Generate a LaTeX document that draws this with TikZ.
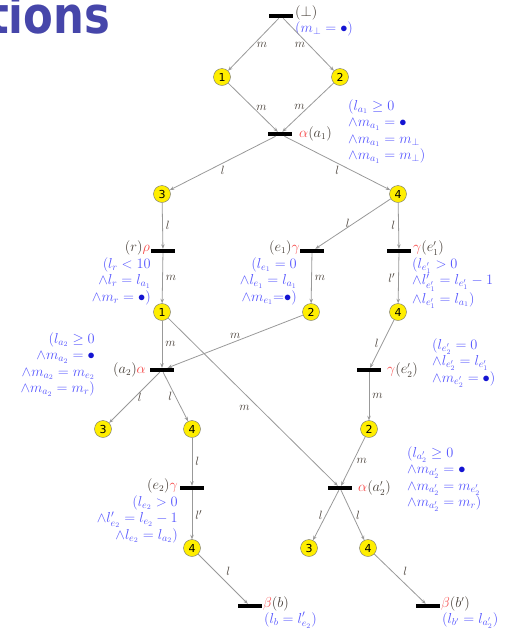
\documentclass[tikz,border=0pt]{standalone}
\usepackage{amsmath,amssymb}
\usepackage{fontspec}
\newfontfamily\titlefont{DejaVu Sans}
\newfontfamily\placefont{DejaVu Sans}
\usepackage{tikz}
\usetikzlibrary{arrows.meta}
\definecolor{annblue}{RGB}{85,85,255}
\definecolor{dotblue}{RGB}{20,20,210}
\definecolor{greekred}{RGB}{245,70,70}
\definecolor{lbldark}{RGB}{70,62,55}
\definecolor{placeyellow}{RGB}{255,238,0}
\definecolor{titleblue}{RGB}{70,70,170}
\tikzset{
    place/.style={
        circle, draw=black!55, fill=placeyellow, minimum size=17pt, inner sep=0pt,
        font=\placefont\fontsize{11}{11}\selectfont
    },
    trans/.style={
        rectangle, fill=black, minimum width=24pt, minimum height=4pt, inner sep=0pt
    },
    arrow/.style={
        line width=0.8pt, -{Stealth[length=4.5pt, width=3.5pt]}, draw=black!40
    },
    edge_lbl/.style={
        font=\fontsize{13}{13}\selectfont, text=lbldark, inner sep=3pt
    },
    name_lbl/.style={
        font=\fontsize{13.5}{13.5}\selectfont, text=lbldark, inner sep=0pt
    },
    note_l/.style={
        anchor=north west, align=left, inner sep=0pt, text=annblue,
        font=\fontsize{14}{16.5}\selectfont
    },
    note_r/.style={
        anchor=north east, align=right, inner sep=0pt, text=annblue,
        font=\fontsize{14}{16.5}\selectfont
    }
}

\begin{document}
\begin{tikzpicture}[x=1pt, y=-1pt]
    \useasboundingbox (0, 0) rectangle (506, 633);
    \node[anchor=base west, inner sep=0pt, text=titleblue] (title) at (-12, 33)
        {\titlefont\bfseries\fontsize{51}{51}\selectfont\scalebox{0.85}[1]{tions}};

    \node[trans] (tbot) at (281, 16) {};
    \node[place] (s1a) at (222, 77) {1};
    \node[place] (s2a) at (340, 77) {2};
    \node[trans] (ta1) at (280, 134) {};
    \node[place] (s3a) at (162, 194) {3};
    \node[place] (s4a) at (398, 194) {4};
    \node[trans] (tr) at (163, 251) {};
    \node[trans] (te1) at (312, 251) {};
    \node[trans] (te1p) at (399, 251) {};
    \node[place] (s1b) at (162, 312) {1};
    \node[place] (s2b) at (311, 312) {2};
    \node[place] (s4b) at (398, 312) {4};
    \node[trans] (ta2) at (162, 370) {};
    \node[trans] (te2p) at (369, 370) {};
    \node[place] (s3c) at (103, 429) {3};
    \node[place] (s4c) at (192, 429) {4};
    \node[place] (s2c) at (369, 429) {2};
    \node[trans] (te2) at (192, 488) {};
    \node[trans] (ta2p) at (340, 488) {};
    \node[place] (s4d) at (192, 548) {4};
    \node[place] (s3d) at (309, 548) {3};
    \node[place] (s4e) at (368, 548) {4};
    \node[trans] (tb) at (250, 606) {};
    \node[trans] (tbp) at (428, 606) {};

    \node[name_lbl, anchor=west] (nbot) at (295, 13) {$(\bot)$};
    \node[note_l] (cbot) at (295, 21) {$(m_\bot = {\color{dotblue}\bullet})$};
    \node[name_lbl, anchor=west] (na1) at (299, 134) {{\color{greekred}$\alpha$}$(a_1)$};
    \node[note_l] (ca1) at (348, 99) {$(l_{a_1} \geq 0$\\$\land m_{a_1} = {\color{dotblue}\bullet}$\\$\land m_{a_1} = m_\bot$\\$\land m_{a_1} = m_\bot)$};
    \node[name_lbl, anchor=east] (nr) at (150, 248) {$(r)${\color{greekred}$\rho$}};
    \node[note_r] (cr) at (151, 257) {$(l_r < 10$\\$\land l_r = l_{a_1}$\\$\land m_r = {\color{dotblue}\bullet})$};
    \node[name_lbl, anchor=east] (ne1) at (300, 248) {$(e_1)${\color{greekred}$\gamma$}};
    \node[note_r] (ce1) at (297, 257) {$(l_{e_1} = 0$\\$\land l_{e_1} = l_{a_1}$\\$\land m_{e_1}{=}{\color{dotblue}\bullet})$};
    \node[name_lbl, anchor=west] (ne1p) at (413, 248) {{\color{greekred}$\gamma$}$(e'_1)$};
    \node[note_l] (ce1p) at (412, 257) {$(l_{e'_1} > 0$\\$\land l'_{e'_1} = l_{e'_1} - 1$\\$\land l_{e'_1} = l_{a_1})$};
    \node[name_lbl, anchor=east] (na2) at (146, 370) {$(a_2)${\color{greekred}$\alpha$}};
    \node[note_r] (ca2) at (95, 332) {$(l_{a_2} \geq 0$\\$\land m_{a_2} = {\color{dotblue}\bullet}$\\$\land m_{a_2} = m_{e_2}$\\$\land m_{a_2} = m_r)$};
    \node[name_lbl, anchor=west] (ne2p) at (387, 370) {{\color{greekred}$\gamma$}$(e'_2)$};
    \node[note_l] (ce2p) at (432, 338) {$(l_{e'_2} = 0$\\$\land l_{e'_2} = l_{e'_1}$\\$\land m_{e'_2} = {\color{dotblue}\bullet})$};
    \node[name_lbl, anchor=east] (ne2) at (178, 486) {$(e_2)${\color{greekred}$\gamma$}};
    \node[note_r] (ce2) at (178, 495) {$(l_{e_2} > 0$\\$\land l'_{e_2} = l_{e_2} - 1$\\$\land l_{e_2} = l_{a_2})$};
    \node[name_lbl, anchor=west] (na2p) at (358, 488) {{\color{greekred}$\alpha$}$(a'_2)$};
    \node[note_l] (ca2p) at (407, 446) {$(l_{a'_2} \geq 0$\\$\land m_{a'_2} = {\color{dotblue}\bullet}$\\$\land m_{a'_2} = m_{e'_2}$\\$\land m_{a'_2} = m_r)$};
    \node[name_lbl, anchor=west] (nb) at (263, 604) {{\color{greekred}$\beta$}$(b)$};
    \node[note_l] (cb) at (264, 612) {$(l_b = l'_{e_2})$};
    \node[name_lbl, anchor=west] (nbp) at (441, 604) {{\color{greekred}$\beta$}$(b')$};
    \node[note_l] (cbp) at (442, 612) {$(l_{b'} = l_{a'_2})$};

    \draw[arrow] (tbot) -- node[edge_lbl, right] {$m$} (s1a);
    \draw[arrow] (tbot) -- node[edge_lbl, left] {$m$} (s2a);
    \draw[arrow] (s1a) -- node[edge_lbl, right] {$m$} (ta1);
    \draw[arrow] (s2a) -- node[edge_lbl, left] {$m$} (ta1);
    \draw[arrow] (ta1) -- node[edge_lbl, below] {$l$} (s3a);
    \draw[arrow] (ta1) -- node[edge_lbl, below] {$l$} (s4a);
    \draw[arrow] (s3a) -- node[edge_lbl, right] {$l$} (tr);
    \draw[arrow] (tr) -- node[edge_lbl, right] {$m$} (s1b);
    \draw[arrow] (s4a) -- node[edge_lbl, left] {$l$} (te1);
    \draw[arrow] (te1) -- node[edge_lbl, right] {$m$} (s2b);
    \draw[arrow] (s4a) -- node[edge_lbl, left] {$l$} (te1p);
    \draw[arrow] (te1p) -- node[edge_lbl, left] {$l'$} (s4b);
    \draw[arrow] (s1b) -- node[edge_lbl, right] {$m$} (ta2);
    \draw[arrow] (s2b) -- node[edge_lbl, above] {$m$} (ta2);
    \draw[arrow] (s1b) -- node[edge_lbl, below left] {$m$} (ta2p);
    \draw[arrow] (ta2) -- node[edge_lbl, right] {$l$} (s3c);
    \draw[arrow] (ta2) -- node[edge_lbl, left] {$l$} (s4c);
    \draw[arrow] (s4b) -- node[edge_lbl, left] {$l$} (te2p);
    \draw[arrow] (te2p) -- node[edge_lbl, right] {$m$} (s2c);
    \draw[arrow] (s2c) -- node[edge_lbl, right] {$m$} (ta2p);
    \draw[arrow] (s4c) -- node[edge_lbl, right] {$l$} (te2);
    \draw[arrow] (te2) -- node[edge_lbl, right] {$l'$} (s4d);
    \draw[arrow] (s4d) -- node[edge_lbl, above right] {$l$} (tb);
    \draw[arrow] (ta2p) -- node[edge_lbl, left] {$l$} (s3d);
    \draw[arrow] (ta2p) -- node[edge_lbl, right] {$l$} (s4e);
    \draw[arrow] (s4e) -- node[edge_lbl, above right] {$l$} (tbp);
\end{tikzpicture}
\end{document}
